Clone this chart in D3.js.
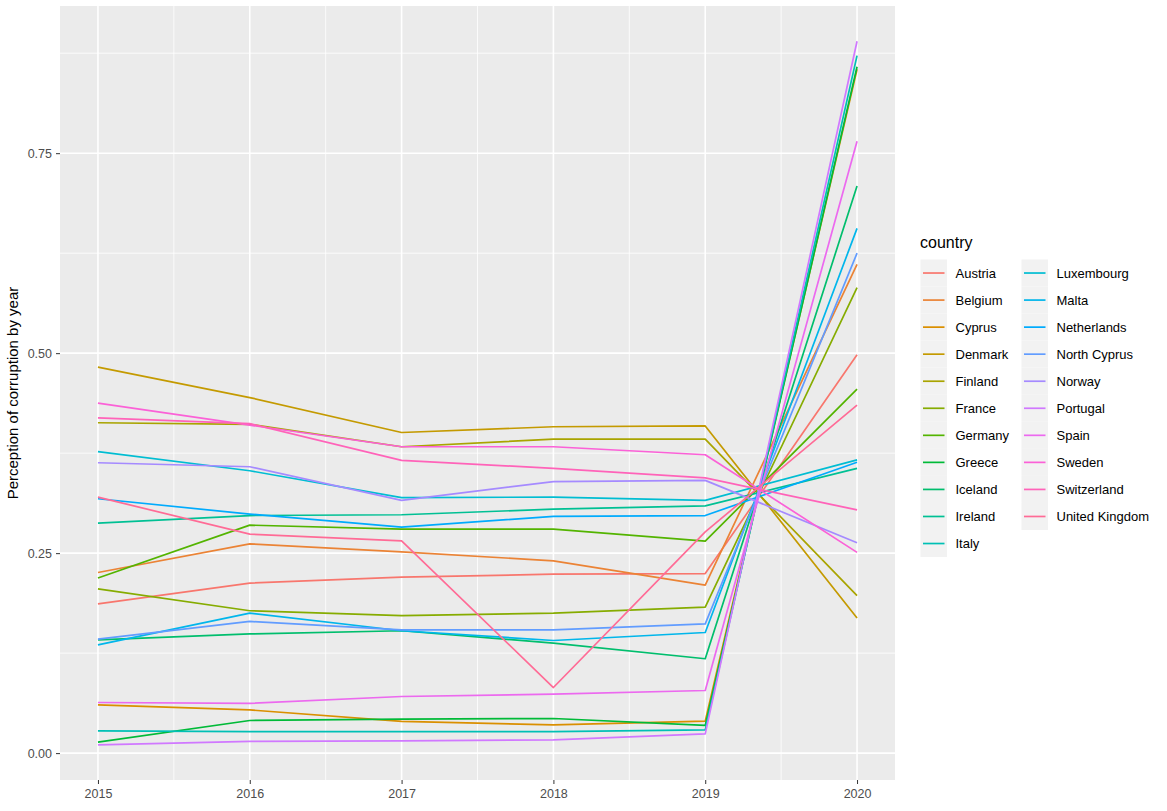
<!DOCTYPE html>
<html>
<head>
<meta charset="utf-8">
<script src="https://cdn.jsdelivr.net/npm/d3@7"></script>
<style>
  html, body { margin: 0; padding: 0; background: #ffffff; }
  svg { display: block; font-family: "Liberation Sans", Arial, sans-serif; }
</style>
</head>
<body>
<svg id="chart" width="1167" height="811"></svg>
<script>
const years = [2015, 2016, 2017, 2018, 2019, 2020];
const countries = ["Austria","Belgium","Cyprus","Denmark","Finland","France","Germany","Greece","Iceland","Ireland","Italy","Luxembourg","Malta","Netherlands","North Cyprus","Norway","Portugal","Spain","Sweden","Switzerland","United Kingdom"];

const austria      = [0.1866, 0.2125, 0.2200, 0.2237, 0.2245, 0.498];
const belgium      = [0.2258, 0.2616, 0.2516, 0.2404, 0.2100, 0.611];
const cyprus       = [0.0604, 0.0540, 0.0396, 0.0354, 0.0400, 0.855];
const denmark      = [0.4825, 0.4445, 0.4008, 0.4080, 0.4090, 0.169];
const finland      = [0.4130, 0.4110, 0.3830, 0.3925, 0.3925, 0.197];
const france       = [0.2054, 0.1780, 0.1720, 0.1750, 0.1825, 0.582];
const germany      = [0.2190, 0.2850, 0.2800, 0.2800, 0.2650, 0.455];
const greece       = [0.0138, 0.0408, 0.0425, 0.0433, 0.0346, 0.858];
const iceland      = [0.1416, 0.1490, 0.1530, 0.1375, 0.1180, 0.709];
const ireland      = [0.2875, 0.2970, 0.2980, 0.3050, 0.3090, 0.356];
const italy        = [0.0279, 0.0270, 0.0270, 0.0270, 0.0290, 0.872];
const luxembourg   = [0.3770, 0.3530, 0.3195, 0.3200, 0.3160, 0.3666];
const malta        = [0.1354, 0.1750, 0.1530, 0.1408, 0.1508, 0.656];
const netherlands  = [0.3180, 0.2988, 0.2825, 0.2960, 0.2970, 0.3637];
const northCyprus  = [0.1425, 0.1646, 0.1540, 0.1540, 0.1616, 0.625];
const norway       = [0.3630, 0.3580, 0.3160, 0.3395, 0.3410, 0.263];
const portugal     = [0.0104, 0.0146, 0.0154, 0.0166, 0.0240, 0.890];
const spain        = [0.0633, 0.0622, 0.0708, 0.0737, 0.0783, 0.765];
const sweden       = [0.4375, 0.4100, 0.3830, 0.3830, 0.3730, 0.251];
const switzerland  = [0.4190, 0.4120, 0.3660, 0.3560, 0.3440, 0.304];
const unitedKingdom= [0.3200, 0.2737, 0.2654, 0.0820, 0.2766, 0.435];

const seriesValues = [austria, belgium, cyprus, denmark, finland, france, germany, greece, iceland, ireland, italy, luxembourg, malta, netherlands, northCyprus, norway, portugal, spain, sweden, switzerland, unitedKingdom];

const yTicks = [0, 0.25, 0.5, 0.75];
const yTickLabels = ["0.00", "0.25", "0.50", "0.75"];
const yMinor = [0.125, 0.375, 0.625, 0.875];
const xMinor = [2015.5, 2016.5, 2017.5, 2018.5, 2019.5];

// ggplot2-style hue palette (polar LUV -> sRGB)
function hclLuv(h, c, l) {
  const WX = 95.047, WY = 100.0, WZ = 108.883;
  const un = 4 * WX / (WX + 15 * WY + 3 * WZ);
  const vn = 9 * WY / (WX + 15 * WY + 3 * WZ);
  const hr = h * Math.PI / 180;
  const U = c * Math.cos(hr), V = c * Math.sin(hr);
  const Y = WY * (l > 7.999592 ? Math.pow((l + 16) / 116, 3) : l / 903.3);
  const u = U / (13 * l) + un, v = V / (13 * l) + vn;
  const X = 9.0 * Y * u / (4 * v);
  const Z = -X / 3 - 5 * Y + 3 * Y / v;
  const g = t => { t = t / 100; const r = t > 0.0031308 ? 1.055 * Math.pow(t, 1 / 2.4) - 0.055 : 12.92 * t; return Math.max(0, Math.min(255, Math.round(255 * r))); };
  const R = g(3.240479 * X - 1.537150 * Y - 0.498535 * Z);
  const G = g(-0.969256 * X + 1.875992 * Y + 0.041556 * Z);
  const B = g(0.055648 * X - 0.204043 * Y + 1.057311 * Z);
  return `rgb(${R},${G},${B})`;
}
const n = countries.length;
const palette = countries.map((_, i) => hclLuv(15 + 360 * i / n, 100, 65));
const color = d3.scaleOrdinal().domain(countries).range(palette);

const svg = d3.select("#chart");
const panel = { left: 60, right: 895, top: 6, bottom: 780 };

const x = d3.scaleLinear().domain([2014.75, 2020.25]).range([panel.left, panel.right]);
const y = d3.scaleLinear().domain([-0.0336, 0.9340]).range([panel.bottom, panel.top]);

// panel background
svg.append("rect")
  .attr("x", panel.left).attr("y", panel.top)
  .attr("width", panel.right - panel.left).attr("height", panel.bottom - panel.top)
  .attr("fill", "#EBEBEB");

const grid = svg.append("g");
// minor grid
grid.selectAll(".ymin").data(yMinor).join("line")
  .attr("x1", panel.left).attr("x2", panel.right)
  .attr("y1", d => y(d)).attr("y2", d => y(d))
  .attr("stroke", "#ffffff").attr("stroke-width", 0.8);
grid.selectAll(".xmin").data(xMinor).join("line")
  .attr("y1", panel.top).attr("y2", panel.bottom)
  .attr("x1", d => x(d)).attr("x2", d => x(d))
  .attr("stroke", "#ffffff").attr("stroke-width", 0.8);
// major grid
grid.selectAll(".ymaj").data(yTicks).join("line")
  .attr("x1", panel.left).attr("x2", panel.right)
  .attr("y1", d => y(d)).attr("y2", d => y(d))
  .attr("stroke", "#ffffff").attr("stroke-width", 1.6);
grid.selectAll(".xmaj").data(years).join("line")
  .attr("y1", panel.top).attr("y2", panel.bottom)
  .attr("x1", d => x(d)).attr("x2", d => x(d))
  .attr("stroke", "#ffffff").attr("stroke-width", 1.6);

// axes
const yAxis = d3.axisLeft(y).tickValues(yTicks).tickFormat((d, i) => yTickLabels[i]).tickSize(4).tickPadding(4);
const gy = svg.append("g").attr("transform", `translate(${panel.left},0)`).call(yAxis);
gy.select(".domain").remove();
gy.selectAll(".tick line").attr("stroke", "#333333").attr("stroke-width", 1);
gy.selectAll(".tick text").attr("fill", "#4D4D4D").style("font-size", "12.5px");

const xAxis = d3.axisBottom(x).tickValues(years).tickFormat(d3.format("d")).tickSize(4).tickPadding(5);
const gx = svg.append("g").attr("transform", `translate(0,${panel.bottom})`).call(xAxis);
gx.select(".domain").remove();
gx.selectAll(".tick line").attr("stroke", "#333333").attr("stroke-width", 1);
gx.selectAll(".tick text").attr("fill", "#4D4D4D").style("font-size", "12.5px");

// y title
svg.append("text")
  .attr("transform", `translate(18,${(panel.top + panel.bottom) / 2}) rotate(-90)`)
  .attr("text-anchor", "middle")
  .style("font-size", "15px").attr("fill", "#000")
  .text("Perception of corruption by year");

// lines
const line = d3.line().x((d, i) => x(years[i])).y(d => y(d));
svg.append("g").selectAll("path")
  .data(countries.map((c, i) => ({ c, v: seriesValues[i] })))
  .join("path")
  .attr("d", d => line(d.v))
  .attr("fill", "none")
  .attr("stroke", d => color(d.c))
  .attr("stroke-width", 1.7)
  .attr("stroke-linejoin", "round");

// legend
const leg = svg.append("g");
leg.append("text").attr("x", 920).attr("y", 248)
  .style("font-size", "16px").attr("fill", "#000").text("country");
const perCol = 11, keyW = 26.5, keyH = 27.05, top0 = 259.5;
const colX = [920.5, 1021.5];
countries.forEach((c, i) => {
  const col = Math.floor(i / perCol), row = i % perCol;
  const kx = colX[col], ky = top0 + row * keyH;
  leg.append("rect").attr("x", kx).attr("y", ky).attr("width", keyW).attr("height", keyH).attr("fill", "#F2F2F2");
  leg.append("line").attr("x1", kx + 2.5).attr("x2", kx + keyW - 2.5)
    .attr("y1", ky + keyH / 2).attr("y2", ky + keyH / 2)
    .attr("stroke", color(c)).attr("stroke-width", 1.7);
  leg.append("text").attr("x", kx + keyW + 8.5).attr("y", ky + keyH / 2)
    .attr("dy", "0.35em").style("font-size", "13px").attr("fill", "#000").text(c);
});
</script>
</body>
</html>
